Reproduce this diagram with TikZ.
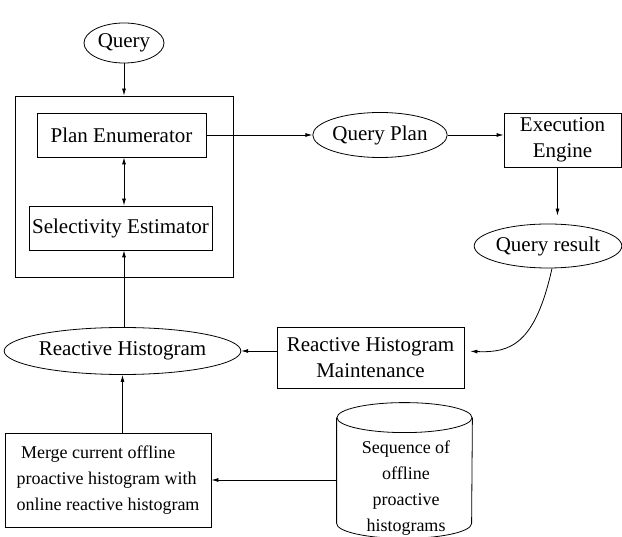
\documentclass[tikz,border=0pt]{standalone}
\usepackage{fontspec}
\setmainfont{Liberation Serif}
\usepackage{tikz}
\usetikzlibrary{positioning,shapes.geometric,arrows.meta}

\begin{document}
\begin{tikzpicture}[x=1pt, y=-1pt, line width=0.8pt,
		font=\fontsize{21}{26}\selectfont,
		>={Latex[length=7pt,width=4pt]},
		e/.style={ellipse, draw, inner sep=0pt},
		b/.style={rectangle, draw, inner sep=0pt},
		small/.style={font=\fontsize{18}{26}\selectfont}]
		\useasboundingbox (0,0) rectangle (622,537);

		\node[e, minimum width=80, minimum height=40] (q) at (124,43) {Query};
		\node[b, minimum width=218, minimum height=181] (opt) at (124,186.5) {};
		\node[b, minimum width=169, minimum height=44] (pe) at (121.5,135) {Plan Enumerator};
		\node[b, minimum width=183, minimum height=44] (se) at (120.5,228) {Selectivity Estimator};
		\node[e, minimum width=126, minimum height=45] (qp) at (380,135) {Query Plan};
		\node[b, minimum width=117, minimum height=54, align=center] (ee) at (562.5,140) {Execution\\Engine};
		\node[e, minimum width=142, minimum height=44] (qr) at (548,246) {Query result};
		\node[b, minimum width=187, minimum height=61, align=center] (rhm) at (370.5,357.5) {Reactive Histogram\\Maintenance};
		\node[e, minimum width=219, minimum height=47] (rh) at (122.5,351) {Reactive Histogram};
		\node[b, small, minimum width=206, minimum height=94, align=left] (mrg) at (108,480) {\ Merge current offline\\proactive histogram with\\online reactive histogram};
		\node[minimum width=135, minimum height=135, inner sep=0pt] (db) at (404.5,470.5) {};
		\node[small, align=center, inner sep=0pt] (seq) at (406,488) {Sequence of\\offline\hspace{0.8em}\\proactive\\histograms};

		% cylinder
		\draw ([yshift=-15pt]db.north) ellipse[x radius=67.5pt, y radius=15pt];
		\draw ([yshift=-15pt]db.north west) -- ([yshift=15pt]db.south west)
			arc[start angle=180, end angle=360, x radius=67.5pt, y radius=15pt]
			-- ([yshift=-15pt]db.north east);

		\draw[->] (q) -- (q.south |- opt.north);
		\draw[<->] (pe.south -| opt) -- (se.north -| opt);
		\draw[->] (rh.north -| opt) -- (se.south -| opt);
		\draw[->] (pe.east) -- (qp.west);
		\draw[->] (qp.east) -- (qp.east -| ee.west);
		\draw[->, shorten >=8pt] ([xshift=-5pt]ee.south) -- ([xshift=-5pt]ee.south |- qr.north);
		\draw[->, shorten >=6pt] ([xshift=4pt]qr.south) .. controls (535,345) and (510,353) .. (rhm.east |- rh.east);
		\draw[->] (rh.east -| rhm.west) -- (rh.east);
		\draw[->] (mrg.north -| rh.south) -- (rh.south);
		\draw[->] (db.west |- mrg.east) -- (mrg.east);
	\end{tikzpicture}
\end{document}
